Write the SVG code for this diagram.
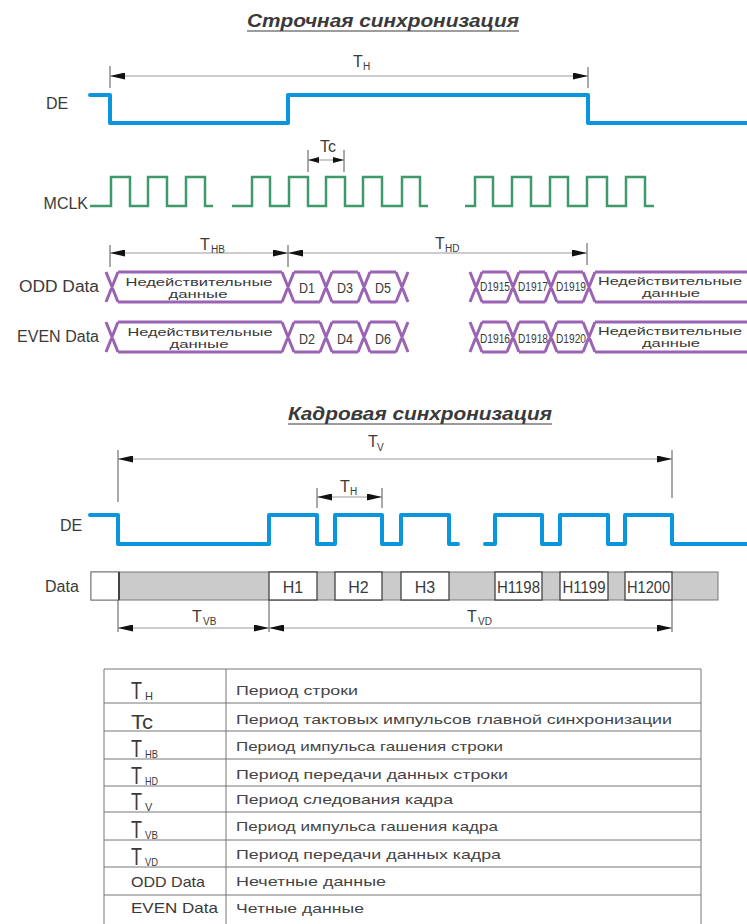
<svg xmlns="http://www.w3.org/2000/svg" xmlns:xlink="http://www.w3.org/1999/xlink" width="747" height="924" viewBox="0 0 747 924">
<style>
text{font-family:"Liberation Sans",Arial,sans-serif;fill:#3a3a3a}
.title{font-size:18px;font-weight:bold;font-style:italic}
.lbl{font-size:16px}
.T{font-size:16px}
.sub{font-size:10px}
.bt{font-size:11.5px}
.dl{font-size:14px}
.dn{font-size:12px}
.h{font-size:16px}
.tT{font-size:23px}
.tTc{font-size:20px}
.tsub{font-size:11px}
.tl{font-size:15px}
.desc{font-size:13.5px;fill:#444}
.de{fill:none;stroke:#0a96dc;stroke-width:4;stroke-linejoin:round;stroke-linecap:round}
.clk{fill:none;stroke:#3f9a6b;stroke-width:2.5}
.bus{fill:none;stroke:#9a63b3;stroke-width:3}
.dim{stroke:#999;stroke-width:1;fill:none;marker-start:url(#ah);marker-end:url(#ah)}
.dims{stroke:#999;stroke-width:1;fill:none;marker-start:url(#ahs);marker-end:url(#ahs)}
.tick{stroke:#555;stroke-width:1}
.uline{stroke:#3a3a3a;stroke-width:1.2}
.grid{stroke:#777;stroke-width:1;fill:none}
</style>
<defs>
<marker id="ah" viewBox="0 0 15 7" refX="15" refY="3.5" markerWidth="15" markerHeight="7" markerUnits="userSpaceOnUse" orient="auto-start-reverse"><path d="M0,0L15,3.5L0,7z" fill="#111"/></marker>
<marker id="ahs" viewBox="0 0 11 6" refX="11" refY="3" markerWidth="11" markerHeight="6" markerUnits="userSpaceOnUse" orient="auto-start-reverse"><path d="M0,0L11,3L0,6z" fill="#111"/></marker>
<path id="busShape" class="bus" d="M106,272L118,302M106,302L118,272M118,272H282M118,302H282M282,272L294,302M282,302L294,272M294,272H320M294,302H320M320,272L332,302M320,302L332,272M332,272H358M332,302H358M358,272L370,302M358,302L370,272M370,272H396M370,302H396M396,272L408,302M396,302L408,272M470,272L482,302M470,302L482,272M482,272H507M482,302H507M507,272L519,302M507,302L519,272M519,272H545M519,302H545M545,272L557,302M545,302L557,272M557,272H583M557,302H583M583,272L595,302M583,302L595,272M595,272H747M595,302H747"/>
</defs>

<g id="title-line">
<text class="title" x="247" y="27" textLength="272" lengthAdjust="spacingAndGlyphs">Строчная синхронизация</text>
<line class="uline" x1="247" y1="31" x2="519" y2="31"/>
</g>

<g id="sig-de-line">
<text class="lbl" x="46" y="109">DE</text>
<path class="de" d="M90,95H110V123H288V95H588V123H747"/>
</g>

<g id="sig-mclk">
<text class="lbl" x="88" y="209" text-anchor="end">MCLK</text>
<path class="clk" d="M90,206H111V177H130V206H148V177H167V206H186V177H205V206H213"/>
<path class="clk" d="M232,206H252V177H270V206H289V177H308V206H326V177H345V206H363V177H382V206H402V177H420V206H428"/>
<path class="clk" d="M465,206H475V177H493V206H512V177H531V206H550V177H568V206H587V177H607V206H626V177H645V206H654"/>
</g>

<g id="bus-odd">
<text class="lbl" x="99" y="292" text-anchor="end" textLength="80" lengthAdjust="spacingAndGlyphs">ODD Data</text>
<use xlink:href="#busShape" href="#busShape"/>
<text class="bt" x="199" y="286" text-anchor="middle" textLength="147" lengthAdjust="spacingAndGlyphs">Недействительные</text>
<text class="bt" x="198" y="298" text-anchor="middle" textLength="59" lengthAdjust="spacingAndGlyphs">данные</text>
<text class="dl" x="307" y="293" text-anchor="middle" textLength="16" lengthAdjust="spacingAndGlyphs">D1</text>
<text class="dl" x="345" y="293" text-anchor="middle" textLength="16" lengthAdjust="spacingAndGlyphs">D3</text>
<text class="dl" x="383" y="293" text-anchor="middle" textLength="16" lengthAdjust="spacingAndGlyphs">D5</text>
<text class="dn" x="495" y="291" text-anchor="middle" textLength="30" lengthAdjust="spacingAndGlyphs">D1915</text>
<text class="dn" x="533" y="291" text-anchor="middle" textLength="30" lengthAdjust="spacingAndGlyphs">D1917</text>
<text class="dn" x="571" y="291" text-anchor="middle" textLength="30" lengthAdjust="spacingAndGlyphs">D1919</text>
<text class="bt" x="670" y="285" text-anchor="middle" textLength="144" lengthAdjust="spacingAndGlyphs">Недействительные</text>
<text class="bt" x="671" y="297" text-anchor="middle" textLength="58" lengthAdjust="spacingAndGlyphs">данные</text>
</g>

<g id="bus-even">
<text class="lbl" x="99" y="342" text-anchor="end" textLength="82" lengthAdjust="spacingAndGlyphs">EVEN Data</text>
<use xlink:href="#busShape" href="#busShape" transform="translate(0,50)"/>
<text class="bt" x="200" y="336" text-anchor="middle" textLength="145" lengthAdjust="spacingAndGlyphs">Недействительные</text>
<text class="bt" x="199" y="348" text-anchor="middle" textLength="59" lengthAdjust="spacingAndGlyphs">данные</text>
<text class="dl" x="307" y="344" text-anchor="middle" textLength="16" lengthAdjust="spacingAndGlyphs">D2</text>
<text class="dl" x="345" y="344" text-anchor="middle" textLength="16" lengthAdjust="spacingAndGlyphs">D4</text>
<text class="dl" x="383" y="344" text-anchor="middle" textLength="16" lengthAdjust="spacingAndGlyphs">D6</text>
<text class="dn" x="495" y="343" text-anchor="middle" textLength="30" lengthAdjust="spacingAndGlyphs">D1916</text>
<text class="dn" x="533" y="343" text-anchor="middle" textLength="30" lengthAdjust="spacingAndGlyphs">D1918</text>
<text class="dn" x="571" y="343" text-anchor="middle" textLength="30" lengthAdjust="spacingAndGlyphs">D1920</text>
<text class="bt" x="670" y="335" text-anchor="middle" textLength="144" lengthAdjust="spacingAndGlyphs">Недействительные</text>
<text class="bt" x="671" y="347" text-anchor="middle" textLength="58" lengthAdjust="spacingAndGlyphs">данные</text>
</g>

<g id="title-frame">
<text class="title" x="288" y="420" textLength="264" lengthAdjust="spacingAndGlyphs">Кадровая синхронизация</text>
<line class="uline" x1="288" y1="424" x2="552" y2="424"/>
</g>

<g id="sig-de-frame">
<text class="lbl" x="60" y="531">DE</text>
<path class="de" d="M90,515H118V544H269V515H317V544H335V515H382V544H401V515H449V544H458"/>
<path class="de" d="M485,544H495V515H542V544H560V515H608V544H625V515H672V544H747"/>
</g>

<g id="sig-data-frame">
<text class="lbl" x="45" y="592">Data</text>
<rect x="91" y="572" width="627" height="28" fill="#cbcbcb" stroke="#777" stroke-width="1"/>
<rect x="91" y="572" width="28" height="28" fill="#fff" stroke="#777" stroke-width="1"/>
<line x1="119" y1="572" x2="119" y2="600" stroke="#444" stroke-width="2"/>
<g fill="#fff" stroke="#444" stroke-width="1.3">
<rect x="269" y="572" width="48" height="28"/>
<rect x="335" y="572" width="47" height="28"/>
<rect x="401" y="572" width="48" height="28"/>
<rect x="495" y="572" width="47" height="28"/>
<rect x="560" y="572" width="48" height="28"/>
<rect x="625" y="572" width="47" height="28"/>
</g>
<text class="h" x="293" y="593" text-anchor="middle">H1</text>
<text class="h" x="358.5" y="593" text-anchor="middle">H2</text>
<text class="h" x="425" y="593" text-anchor="middle">H3</text>
<text class="h" x="518.5" y="593" text-anchor="middle" textLength="43" lengthAdjust="spacingAndGlyphs">H1198</text>
<text class="h" x="584" y="593" text-anchor="middle" textLength="43" lengthAdjust="spacingAndGlyphs">H1199</text>
<text class="h" x="648.5" y="593" text-anchor="middle" textLength="43" lengthAdjust="spacingAndGlyphs">H1200</text>
</g>

<g id="connectors">
<line class="tick" x1="110" y1="66" x2="110" y2="88"/>
<line class="tick" x1="588" y1="67" x2="588" y2="88"/>
<line class="dim" x1="110" y1="76" x2="588" y2="76"/>
<text class="T" x="353" y="67">T</text><text class="sub" x="363" y="70">H</text>

<line class="tick" x1="308" y1="150" x2="308" y2="172"/>
<line class="tick" x1="344" y1="150" x2="344" y2="172"/>
<line class="dims" x1="308" y1="160" x2="344" y2="160"/>
<text class="T" x="320" y="152">Tc</text>

<line class="tick" x1="110" y1="245" x2="110" y2="267"/>
<line class="tick" x1="288" y1="245" x2="288" y2="267"/>
<line class="tick" x1="587" y1="243" x2="587" y2="265"/>
<line class="dim" x1="110" y1="253" x2="288" y2="253"/>
<line class="dim" x1="288" y1="253" x2="587" y2="253"/>
<text class="T" x="200" y="250">T</text><text class="sub" x="211" y="253">HB</text>
<text class="T" x="435" y="249">T</text><text class="sub" x="445" y="252">HD</text>

<line class="tick" x1="118" y1="450" x2="118" y2="502"/>
<line class="tick" x1="672" y1="450" x2="672" y2="498"/>
<line class="dim" x1="118" y1="459" x2="672" y2="459"/>
<text class="T" x="368" y="447">T</text><text class="sub" x="377" y="451">V</text>

<line class="tick" x1="317" y1="488" x2="317" y2="508"/>
<line class="tick" x1="382" y1="488" x2="382" y2="508"/>
<line class="dim" x1="317" y1="497" x2="382" y2="497"/>
<text class="T" x="340" y="492">T</text><text class="sub" x="350" y="495">H</text>

<line class="tick" x1="118" y1="600" x2="118" y2="632"/>
<line class="tick" x1="269" y1="600" x2="269" y2="632"/>
<line class="tick" x1="672" y1="600" x2="672" y2="632"/>
<line class="dim" x1="118" y1="628" x2="269" y2="628"/>
<line class="dim" x1="269" y1="628" x2="672" y2="628"/>
<text class="T" x="192" y="622">T</text><text class="sub" x="203" y="625">VB</text>
<text class="T" x="467" y="622">T</text><text class="sub" x="478" y="625">VD</text>
</g>

<g id="legend-table">
<path class="grid" d="M104,669H701M104,669V924M701,669V924M226,669V924M104,703H701M104,731H701M104,759H701M104,786H701M104,812H701M104,840H701M104,867H701M104,895H701"/>
<text class="tT" x="131" y="699" textLength="11" lengthAdjust="spacingAndGlyphs">T</text><text class="tsub" x="145" y="700">H</text>
<text class="tTc" x="131" y="729" textLength="22" lengthAdjust="spacingAndGlyphs">Tc</text>
<text class="tT" x="131" y="757" textLength="11" lengthAdjust="spacingAndGlyphs">T</text><text class="tsub" x="145" y="758" textLength="13" lengthAdjust="spacingAndGlyphs">HB</text>
<text class="tT" x="131" y="784" textLength="11" lengthAdjust="spacingAndGlyphs">T</text><text class="tsub" x="145" y="785" textLength="13" lengthAdjust="spacingAndGlyphs">HD</text>
<text class="tT" x="131" y="810" textLength="11" lengthAdjust="spacingAndGlyphs">T</text><text class="tsub" x="145" y="811">V</text>
<text class="tT" x="131" y="838" textLength="11" lengthAdjust="spacingAndGlyphs">T</text><text class="tsub" x="145" y="839" textLength="13" lengthAdjust="spacingAndGlyphs">VB</text>
<text class="tT" x="131" y="865" textLength="11" lengthAdjust="spacingAndGlyphs">T</text><text class="tsub" x="145" y="866" textLength="13" lengthAdjust="spacingAndGlyphs">VD</text>
<text class="tl" x="131" y="887" textLength="74" lengthAdjust="spacingAndGlyphs">ODD Data</text>
<text class="tl" x="131" y="913" textLength="87" lengthAdjust="spacingAndGlyphs">EVEN Data</text>

<text class="desc" x="236" y="695" textLength="122" lengthAdjust="spacingAndGlyphs">Период строки</text>
<text class="desc" x="236" y="724" textLength="436" lengthAdjust="spacingAndGlyphs">Период тактовых импульсов главной синхронизации</text>
<text class="desc" x="236" y="751" textLength="267" lengthAdjust="spacingAndGlyphs">Период импульса гашения строки</text>
<text class="desc" x="236" y="779" textLength="272" lengthAdjust="spacingAndGlyphs">Период передачи данных строки</text>
<text class="desc" x="236" y="804" textLength="217" lengthAdjust="spacingAndGlyphs">Период следования кадра</text>
<text class="desc" x="236" y="831" textLength="262" lengthAdjust="spacingAndGlyphs">Период импульса гашения кадра</text>
<text class="desc" x="236" y="859" textLength="265" lengthAdjust="spacingAndGlyphs">Период передачи данных кадра</text>
<text class="desc" x="236" y="886" textLength="150" lengthAdjust="spacingAndGlyphs">Нечетные данные</text>
<text class="desc" x="236" y="913" textLength="128" lengthAdjust="spacingAndGlyphs">Четные данные</text>
</g>
</svg>
